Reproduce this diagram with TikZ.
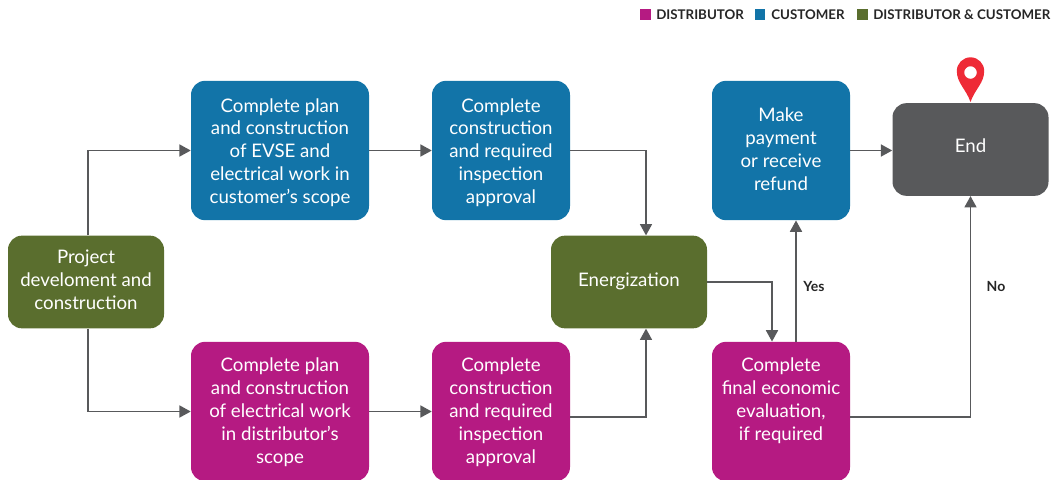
\documentclass[tikz,border=0pt]{standalone}
\usepackage{fontspec}
\setmainfont{Lato}
\usetikzlibrary{arrows.meta,calc}
\definecolor{cblue}{HTML}{1274A8}
\definecolor{cmag}{HTML}{B51A82}
\definecolor{cgreen}{HTML}{5A6E2E}
\definecolor{cgrey}{HTML}{58595B}
\definecolor{cpin}{HTML}{EE2A36}
\newcommand{\pushup}[1]{\rule[-#1]{0pt}{#1}}
\newcommand{\pushdown}[1]{\rule{0pt}{#1}}
\tikzset{
  x=0.75pt,y=-0.75pt,
  flowbox/.style={rounded corners=10.5pt,inner sep=0pt,align=center,text=white,font=\fontsize{14}{17.2}\selectfont,anchor=center},
  wide/.style={flowbox,minimum width=133.5pt,minimum height=104.5pt},
  narrow/.style={flowbox,minimum width=103.5pt,minimum height=104.5pt},
  flat/.style={flowbox,minimum width=117pt,minimum height=69.5pt},
  link/.style={draw=cgrey,line width=1.25pt,-{Triangle[length=8.5pt,width=9pt]}},
  legendkey/.style={minimum width=8.2pt,minimum height=8.2pt,inner sep=0pt,anchor=center},
  legendtext/.style={font=\fontsize{10}{12}\selectfont\bfseries,text=black!85,inner sep=0pt,anchor=west},
  flowlabel/.style={font=\fontsize{10.5}{12}\selectfont\bfseries,text=black!85,inner sep=0pt}
}
\begin{document}
\begin{tikzpicture}
\useasboundingbox (0,0) rectangle (1053,479);
% legend
\node[legendkey,fill=cmag] (k1) at (645.5,14.5) {};
\node[legendtext] (l1) at (656,14.5) {DISTRIBUTOR};
\node[legendkey,fill=cblue] (k2) at (760,14.5) {};
\node[legendtext] (l2) at (771,14.5) {CUSTOMER};
\node[legendkey,fill=cgreen] (k3) at (862.5,14.5) {};
\node[legendtext] (l3) at (873,14.5) {DISTRIBUTOR \& CUSTOMER};
% boxes
\node[flat,fill=cgreen] (P) at (86,282) {Project\\develoment and\\construction\pushup{3pt}};
\node[wide,fill=cblue] (C1) at (280,150.5) {\pushdown{13.5pt}Complete plan\\and construction\\of EVSE and\\electrical work in\\customer's scope};
\node[narrow,fill=cblue] (C2) at (501,150.5) {\pushdown{13.5pt}Complete\\construction\\and required\\inspection\\approval};
\node[flat,fill=cgreen] (E) at (629,282) {Energization\pushup{3.5pt}};
\node[wide,fill=cmag] (D1) at (280,411.5) {\pushdown{11.5pt}Complete plan\\and construction\\of electrical work\\in distributor's\\scope};
\node[narrow,fill=cmag] (D2) at (501,411.5) {\pushdown{11.5pt}Complete\\construction\\and required\\inspection\\approval};
\node[narrow,fill=cblue] (Pay) at (781,150.5) {Make\\payment\\or receive\\refund\pushup{1.5pt}};
\node[narrow,fill=cmag] (F) at (781,411.5) {Complete\\final economic\\evaluation,\\if required\pushup{18pt}};
\node[flat,fill=cgrey] (End) at (970.5,149.5) {End\pushup{6pt}};
% connectors
\draw[link] ([xshift=1.5pt]P.north) |- (C1.west);
\draw[link] ([xshift=1.5pt]P.south) |- (D1.west);
\draw[link] (C1.east) -- (C2.west);
\draw[link] (D1.east) -- (D2.west);
\draw[link] (C2.east) -| ([xshift=12.75pt]E.north);
\draw[link] ([yshift=-4pt]D2.east) -| ([xshift=12.75pt]E.south);
\draw[link] (E.east) -| ([xshift=-6.75pt]F.north);
\draw[link] ([xshift=11.25pt]F.north) -- ([xshift=11.25pt]Pay.south);
\draw[link] (Pay.east) -- (Pay.east -| End.west);
\draw[link] ([yshift=-4pt]F.east) -| (End.south);
% labels
\node[flowlabel] (yes) at (814,286) {Yes};
\node[flowlabel] (no) at (996,286) {No};
% pin
\fill[cpin,even odd rule] (970.5,102) .. controls (966,89) and (956.8,83) .. (956.8,71) arc[start angle=180,end angle=360,radius=13.7] .. controls (984.2,83) and (975,89) .. (970.5,102) -- cycle (970.5,72.5) circle[radius=6.3];
\end{tikzpicture}
\end{document}
